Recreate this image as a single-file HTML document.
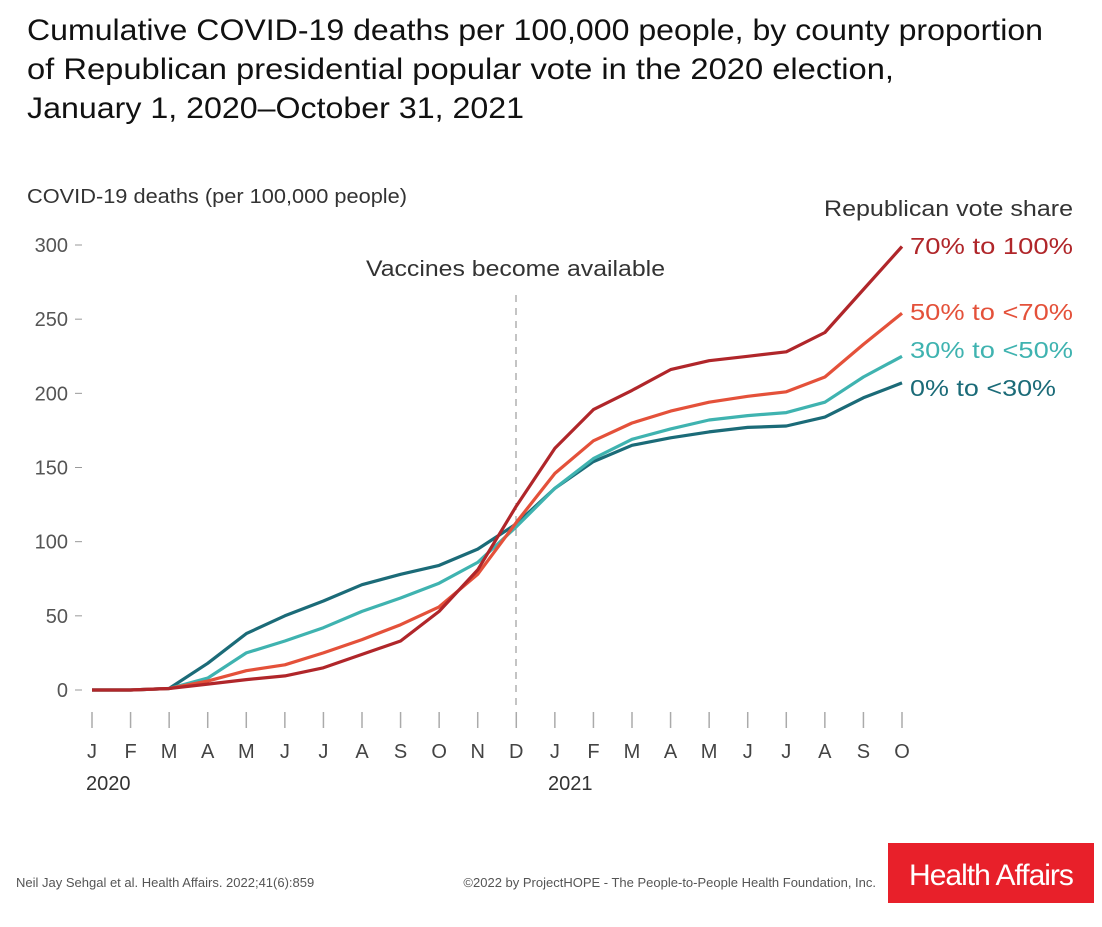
<!DOCTYPE html>
<html><head><meta charset="utf-8"><style>
body{margin:0;background:#fff;width:1102px;height:922px;overflow:hidden;font-family:"Liberation Sans",sans-serif}
svg text{font-family:"Liberation Sans",sans-serif}
</style></head><body>
<svg id="chart" width="1102" height="922" xmlns="http://www.w3.org/2000/svg">
<g font-size="30" fill="#111">
<text x="27" y="40" textLength="1016" lengthAdjust="spacingAndGlyphs">Cumulative COVID-19 deaths per 100,000 people, by county proportion</text>
<text x="27" y="79" textLength="867" lengthAdjust="spacingAndGlyphs">of Republican presidential popular vote in the 2020 election,</text>
<text x="27" y="118" textLength="497" lengthAdjust="spacingAndGlyphs">January 1, 2020–October 31, 2021</text>
</g>
<text x="27" y="203" font-size="20" fill="#333" textLength="380" lengthAdjust="spacingAndGlyphs">COVID-19 deaths (per 100,000 people)</text>
<text x="824" y="216" font-size="22" fill="#333" textLength="249" lengthAdjust="spacingAndGlyphs">Republican vote share</text>
<line x1="516" y1="295" x2="516" y2="705" stroke="#888" stroke-width="1" stroke-dasharray="7,6"/>
<text x="366" y="276" font-size="22" fill="#333" textLength="299" lengthAdjust="spacingAndGlyphs">Vaccines become available</text>
<g id="yaxis"></g><g id="xaxis"></g><g id="lines"></g><g id="labels"></g>
<text x="16" y="887" font-size="13" fill="#555">Neil Jay Sehgal et al. Health Affairs. 2022;41(6):859</text>
<text x="876" y="887" font-size="13" fill="#555" text-anchor="end">©2022 by ProjectHOPE - The People-to-People Health Foundation, Inc.</text>
<rect x="888" y="843" width="206" height="60" fill="#e8202a"/>
<text x="991" y="885" font-size="30" fill="#fff" text-anchor="middle" letter-spacing="-1">Health Affairs</text>
</svg>
<script>
const months=["J","F","M","A","M","J","J","A","S","O","N","D","J","F","M","A","M","J","J","A","S","O"];
const yTicks=[0,50,100,150,200,250,300];
const seriesNames=["70% to 100%","50% to <70%","30% to <50%","0% to <30%"];
const s70=[0,0,1,4,7,9.5,15,24,33,53,81,124,163,189,202,216,222,225,228,241,270,299];
const s50=[0,0,1,6,13,17,25,34,44,56,78,113,146,168,180,188,194,198,201,211,233,254];
const s30=[0,0,1,8,25,33,42,53,62,72,86,110,136,156,169,176,182,185,187,194,211,225];
const s0=[0,0,1,18,38,50,60,71,78,84,95,112,136,154,165,170,174,177,178,184,197,207];
const colors=["#b0262a","#e4513a","#3fb3b0","#1b6b78"];
const labelY=[252,318,356,394];
const labelW=[163,163,163,146];
const NS="http://www.w3.org/2000/svg";
const X=i=>92+i*(810/21), Y=v=>690-v*(445/300);
function mk(tag,attrs,parent,txt){const e=document.createElementNS(NS,tag);for(const k in attrs)e.setAttribute(k,attrs[k]);if(txt!==undefined)e.textContent=txt;parent.appendChild(e);return e;}
const ya=document.getElementById('yaxis');
yTicks.forEach(t=>{
 const tx=mk('text',{x:68,y:Y(t)+7,'font-size':20,fill:'#555','text-anchor':'end'},ya,String(t));
 
 
 const ln=mk('line',{x1:75,x2:82,y1:Y(t),y2:Y(t),stroke:'#999'},ya);
 
 
});
const xa=document.getElementById('xaxis');
months.forEach((m,i)=>{
 const ln=mk('line',{x1:X(i),x2:X(i),y1:712,y2:728,stroke:'#aaa','stroke-width':1.5},xa);
 
 
 const tx=mk('text',{x:X(i),y:758,'font-size':20,fill:'#444','text-anchor':'middle'},xa,m);
 
 
});
const y1=mk('text',{x:86,y:790,'font-size':20,fill:'#333'},xa,'2020');


const y2=mk('text',{x:548,y:790,'font-size':20,fill:'#333'},xa,'2021');


const all=[s70,s50,s30,s0];
const lg=document.getElementById('lines'),lb=document.getElementById('labels');
[3,2,1,0].forEach(k=>{
 const d=all[k].map((v,i)=>(i?'L':'M')+X(i).toFixed(1)+','+Y(v).toFixed(1)).join(' ');
 const p=mk('path',{d:d,fill:'none',stroke:colors[k],'stroke-width':3.2,'stroke-linejoin':'round'},lg);
 
 
 const t=mk('text',{x:910,y:labelY[k]+2,'font-size':23,fill:colors[k],textLength:labelW[k],lengthAdjust:'spacingAndGlyphs'},lb,seriesNames[k]);
 
 
});
</script>
</body></html>
